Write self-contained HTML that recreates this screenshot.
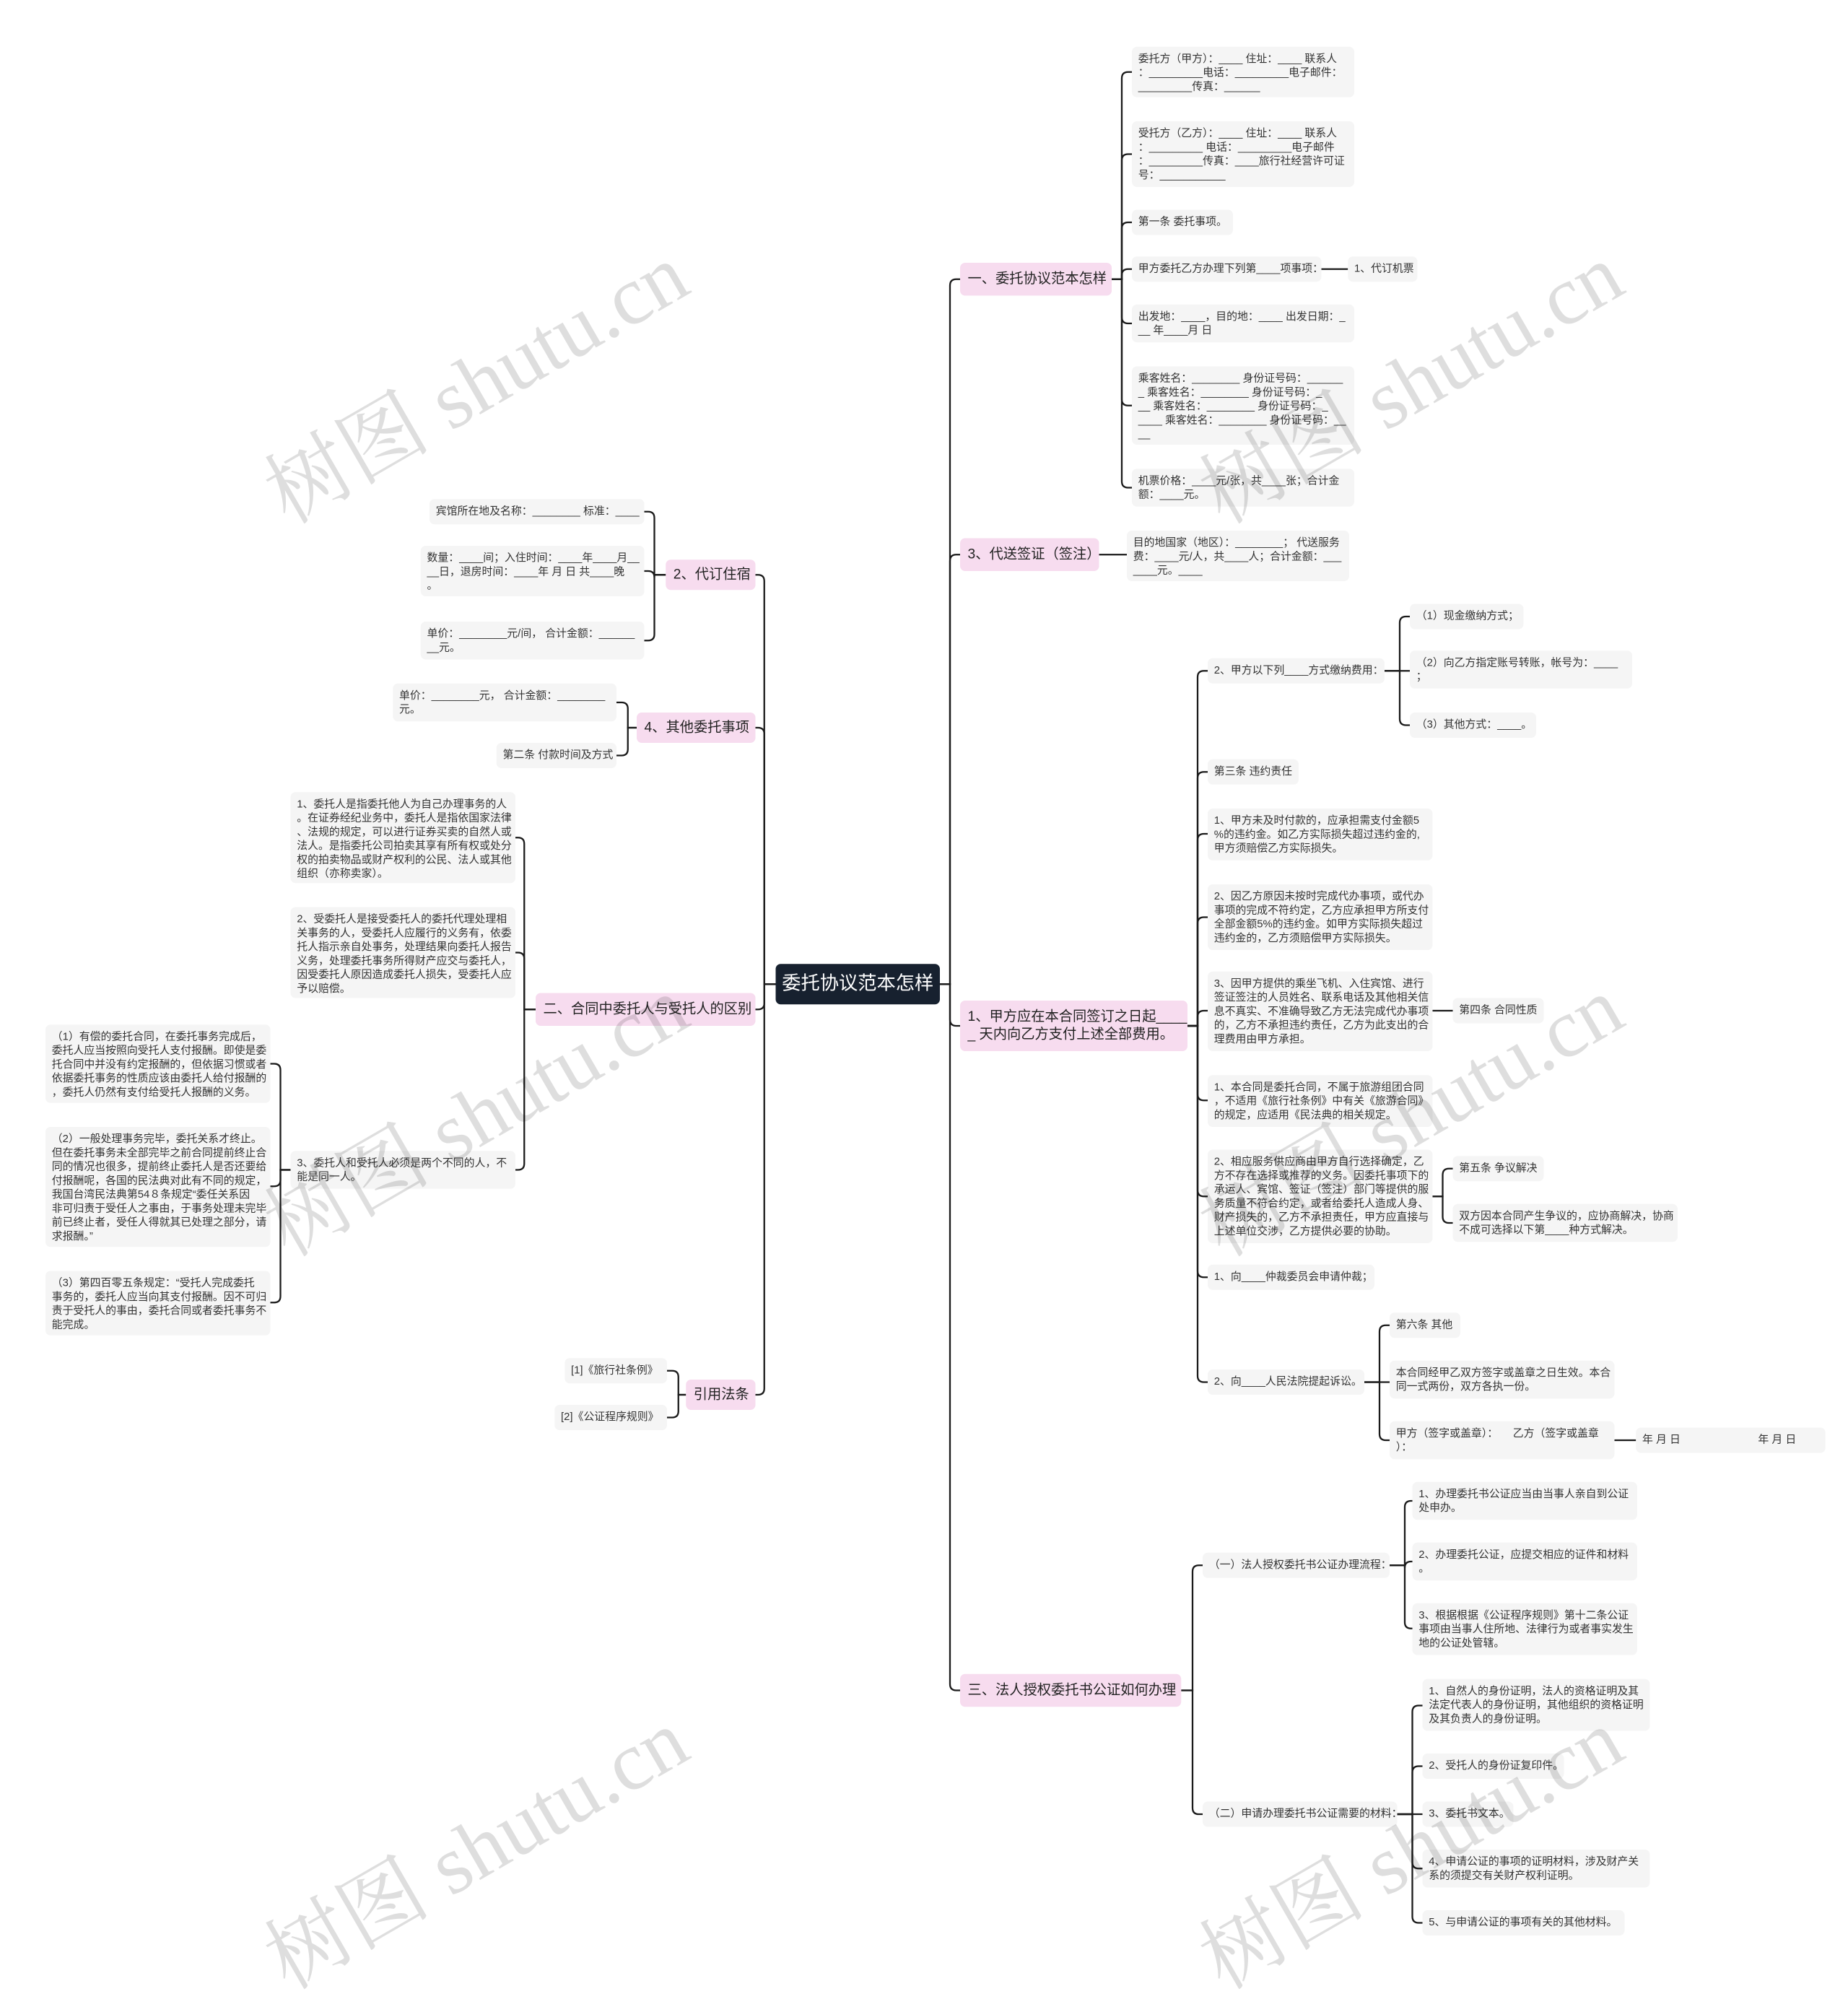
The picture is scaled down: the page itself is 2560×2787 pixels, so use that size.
<!DOCTYPE html>
<html><head><meta charset="utf-8">
<style>
html,body{margin:0;padding:0;background:#fff;}
body{width:2560px;height:2712px;overflow:hidden;position:relative;}
#c{position:absolute;left:0;top:0;width:1463px;height:1550px;transform:scale(1.75);transform-origin:0 0;font-family:"Liberation Sans","Noto Sans CJK SC",sans-serif;}
.l{position:absolute;background:#f5f5f5;border-radius:4px;font-size:8.5px;line-height:11px;padding:4px 5px;color:#333;white-space:nowrap;box-sizing:border-box;}
.b{position:absolute;background:#f7dcef;border-radius:4px;font-size:11px;line-height:14px;padding:6px 6px;color:#222;white-space:nowrap;box-sizing:border-box;}
.r{position:absolute;background:#17212f;border-radius:4px;font-size:15px;color:#fff;white-space:nowrap;box-sizing:border-box;text-align:center;}
.w{position:absolute;font-family:"Liberation Serif","Noto Serif CJK SC",serif;font-size:66px;color:rgba(0,0,0,0.13);transform:rotate(-30deg);transform-origin:0 0;white-space:nowrap;}
svg{position:absolute;left:0;top:0;}
</style></head><body><div id="c">
<svg id="s" width="1463" height="1550"></svg>

<div class="r" style="left:614px;top:763px;width:130px;height:32px;line-height:32px;">委托协议范本怎样</div>

<div class="b" style="left:760px;top:208px;width:120px;height:26px;">一、委托协议范本怎样</div>
<div class="b" style="left:760px;top:426px;width:110px;height:26px;">3、代送签证（签注）</div>
<div class="b" style="left:760px;top:792px;width:180px;height:40px;">1、甲方应在本合同签订之日起____<br>_ 天内向乙方支付上述全部费用。</div>
<div class="b" style="left:760px;top:1325px;width:175px;height:26px;">三、法人授权委托书公证如何办理</div>

<div class="l" style="left:896px;top:37px;width:176px;height:40px;">委托方（甲方）：____ 住址：____ 联系人<br>：_________电话：_________电子邮件：<br>_________传真：______</div>
<div class="l" style="left:896px;top:96px;width:176px;height:52px;">受托方（乙方）：____ 住址：____ 联系人<br>：_________ 电话：_________电子邮件<br>：_________传真：____旅行社经营许可证<br>号：___________</div>
<div class="l" style="left:896px;top:166px;width:80px;height:20px;">第一条 委托事项。</div>
<div class="l" style="left:896px;top:203px;width:150px;height:20px;">甲方委托乙方办理下列第____项事项：</div>
<div class="l" style="left:1067px;top:203px;width:55px;height:20px;">1、代订机票</div>
<div class="l" style="left:896px;top:241px;width:176px;height:30px;">出发地：____，目的地：____ 出发日期：_<br>__ 年____月 日</div>
<div class="l" style="left:896px;top:290px;width:176px;height:62px;">乘客姓名：________ 身份证号码：______<br>_ 乘客姓名：________ 身份证号码：_<br>__ 乘客姓名：________ 身份证号码：_<br>____ 乘客姓名：________ 身份证号码：__<br>__</div>
<div class="l" style="left:896px;top:371px;width:176px;height:30px;">机票价格：____元/张，共____张；合计金<br>额：____元。</div>

<div class="l" style="left:892px;top:420px;width:176px;height:40px;">目的地国家（地区）：________； 代送服务<br>费：____元/人，共____人；合计金额：___<br>____元。____</div>

<div class="l" style="left:956px;top:521px;width:140px;height:20px;">2、甲方以下列____方式缴纳费用：</div>
<div class="l" style="left:1116px;top:478px;width:90px;height:20px;">（1）现金缴纳方式；</div>
<div class="l" style="left:1116px;top:515px;width:176px;height:30px;">（2）向乙方指定账号转账，帐号为：____<br>；</div>
<div class="l" style="left:1116px;top:564px;width:100px;height:20px;">（3）其他方式：____。</div>
<div class="l" style="left:956px;top:601px;width:72px;height:20px;">第三条 违约责任</div>
<div class="l" style="left:956px;top:640px;width:178px;height:41px;">1、甲方未及时付款的，应承担需支付金额5<br>%的违约金。如乙方实际损失超过违约金的,<br>甲方须赔偿乙方实际损失。</div>
<div class="l" style="left:956px;top:700px;width:178px;height:52px;">2、因乙方原因未按时完成代办事项，或代办<br>事项的完成不符约定，乙方应承担甲方所支付<br>全部金额5%的违约金。如甲方实际损失超过<br>违约金的，乙方须赔偿甲方实际损失。</div>
<div class="l" style="left:956px;top:769px;width:178px;height:63px;">3、因甲方提供的乘坐飞机、入住宾馆、进行<br>签证签注的人员姓名、联系电话及其他相关信<br>息不真实、不准确导致乙方无法完成代办事项<br>的，乙方不承担违约责任，乙方为此支出的合<br>理费用由甲方承担。</div>
<div class="l" style="left:1150px;top:790px;width:72px;height:20px;">第四条 合同性质</div>
<div class="l" style="left:956px;top:851px;width:178px;height:41px;">1、本合同是委托合同，不属于旅游组团合同<br>，不适用《旅行社条例》中有关《旅游合同》<br>的规定，应适用《民法典的相关规定。</div>
<div class="l" style="left:956px;top:910px;width:178px;height:74px;">2、相应服务供应商由甲方自行选择确定，乙<br>方不存在选择或推荐的义务。因委托事项下的<br>承运人、宾馆、签证（签注）部门等提供的服<br>务质量不符合约定，或者给委托人造成人身、<br>财产损失的，乙方不承担责任，甲方应直接与<br>上述单位交涉，乙方提供必要的协助。</div>
<div class="l" style="left:1150px;top:915px;width:72px;height:20px;">第五条 争议解决</div>
<div class="l" style="left:1150px;top:953px;width:178px;height:30px;">双方因本合同产生争议的，应协商解决，协商<br>不成可选择以下第____种方式解决。</div>
<div class="l" style="left:956px;top:1001px;width:132px;height:20px;">1、向____仲裁委员会申请仲裁；</div>
<div class="l" style="left:956px;top:1084px;width:124px;height:20px;">2、向____人民法院提起诉讼。</div>
<div class="l" style="left:1100px;top:1039px;width:56px;height:20px;">第六条 其他</div>
<div class="l" style="left:1100px;top:1077px;width:178px;height:30px;">本合同经甲乙双方签字或盖章之日生效。本合<br>同一式两份，双方各执一份。</div>
<div class="l" style="left:1100px;top:1125px;width:178px;height:30px;">甲方（签字或盖章）：&nbsp;&nbsp;&nbsp;&nbsp;&nbsp;乙方（签字或盖章<br>）：</div>
<div class="l" style="left:1295px;top:1130px;width:150px;height:20px;">年 月 日&nbsp;&nbsp;&nbsp;&nbsp;&nbsp;&nbsp;&nbsp;&nbsp;&nbsp;&nbsp;&nbsp;&nbsp;&nbsp;&nbsp;&nbsp;&nbsp;&nbsp;&nbsp;&nbsp;&nbsp;&nbsp;&nbsp;&nbsp;&nbsp;&nbsp;&nbsp;年 月 日</div>

<div class="l" style="left:952px;top:1229px;width:148px;height:20px;">（一）法人授权委托书公证办理流程：</div>
<div class="l" style="left:1118px;top:1173px;width:178px;height:30px;">1、办理委托书公证应当由当事人亲自到公证<br>处申办。</div>
<div class="l" style="left:1118px;top:1221px;width:178px;height:30px;">2、办理委托公证，应提交相应的证件和材料<br>。</div>
<div class="l" style="left:1118px;top:1269px;width:178px;height:41px;">3、根据根据《公证程序规则》第十二条公证<br>事项由当事人住所地、法律行为或者事实发生<br>地的公证处管辖。</div>
<div class="l" style="left:952px;top:1426px;width:154px;height:20px;">（二）申请办理委托书公证需要的材料：</div>
<div class="l" style="left:1126px;top:1329px;width:180px;height:41px;">1、自然人的身份证明，法人的资格证明及其<br>法定代表人的身份证明，其他组织的资格证明<br>及其负责人的身份证明。</div>
<div class="l" style="left:1126px;top:1388px;width:112px;height:20px;">2、受托人的身份证复印件。</div>
<div class="l" style="left:1126px;top:1426px;width:72px;height:20px;">3、委托书文本。</div>
<div class="l" style="left:1126px;top:1464px;width:180px;height:30px;">4、申请公证的事项的证明材料，涉及财产关<br>系的须提交有关财产权利证明。</div>
<div class="l" style="left:1126px;top:1512px;width:160px;height:20px;">5、与申请公证的事项有关的其他材料。</div>

<div class="b" style="left:527px;top:443px;width:71px;height:24px;padding-top:5px;">2、代订住宿</div>
<div class="b" style="left:504px;top:564px;width:94px;height:24px;padding-top:5px;">4、其他委托事项</div>
<div class="b" style="left:424px;top:786px;width:174px;height:26px;">二、合同中委托人与受托人的区别</div>
<div class="b" style="left:543px;top:1092px;width:55px;height:24px;padding-top:5px;">引用法条</div>

<div class="l" style="left:340px;top:395px;width:170px;height:20px;">宾馆所在地及名称：________ 标准：____</div>
<div class="l" style="left:333px;top:432px;width:177px;height:40px;">数量：____间；入住时间：____年____月__<br>__日，退房时间：____年 月 日 共____晚<br>。</div>
<div class="l" style="left:333px;top:492px;width:177px;height:30px;">单价：________元/间， 合计金额：______<br>__元。</div>
<div class="l" style="left:311px;top:541px;width:177px;height:30px;">单价：________元， 合计金额：________<br>元。</div>
<div class="l" style="left:393px;top:588px;width:95px;height:20px;">第二条 付款时间及方式</div>
<div class="l" style="left:230px;top:627px;width:178px;height:72px;">1、委托人是指委托他人为自己办理事务的人<br>。在证券经纪业务中，委托人是指依国家法律<br>、法规的规定，可以进行证券买卖的自然人或<br>法人。是指委托公司拍卖其享有所有权或处分<br>权的拍卖物品或财产权利的公民、法人或其他<br>组织（亦称卖家）。</div>
<div class="l" style="left:230px;top:718px;width:178px;height:72px;">2、受委托人是接受委托人的委托代理处理相<br>关事务的人，受委托人应履行的义务有，依委<br>托人指示亲自处事务，处理结果向委托人报告<br>义务，处理委托事务所得财产应交与委托人，<br>因受委托人原因造成委托人损失，受委托人应<br>予以赔偿。</div>
<div class="l" style="left:230px;top:911px;width:178px;height:30px;">3、委托人和受托人必须是两个不同的人，不<br>能是同一人。</div>
<div class="l" style="left:36px;top:811px;width:178px;height:62px;">（1）有偿的委托合同，在委托事务完成后，<br>委托人应当按照向受托人支付报酬。即使是委<br>托合同中并没有约定报酬的，但依据习惯或者<br>依据委托事务的性质应该由委托人给付报酬的<br>，委托人仍然有支付给受托人报酬的义务。</div>
<div class="l" style="left:36px;top:892px;width:178px;height:95px;">（2）一般处理事务完毕，委托关系才终止。<br>但在委托事务未全部完毕之前合同提前终止合<br>同的情况也很多，提前终止委托人是否还要给<br>付报酬呢，各国的民法典对此有不同的规定，<br>我国台湾民法典第54８条规定“委任关系因<br>非可归责于受任人之事由，于事务处理未完毕<br>前已终止者，受任人得就其已处理之部分，请<br>求报酬。”</div>
<div class="l" style="left:36px;top:1006px;width:178px;height:51px;">（3）第四百零五条规定：“受托人完成委托<br>事务的，委托人应当向其支付报酬。因不可归<br>责于受托人的事由，委托合同或者委托事务不<br>能完成。</div>
<div class="l" style="left:447px;top:1075px;width:81px;height:20px;">[1]《旅行社条例》</div>
<div class="l" style="left:439px;top:1112px;width:89px;height:20px;">[2]《公证程序规则》</div>

<div class="w" style="left:190px;top:350px;">树图 shutu.cn</div>
<div class="w" style="left:930px;top:350px;">树图 shutu.cn</div>
<div class="w" style="left:190px;top:930px;">树图 shutu.cn</div>
<div class="w" style="left:930px;top:930px;">树图 shutu.cn</div>
<div class="w" style="left:190px;top:1510px;">树图 shutu.cn</div>
<div class="w" style="left:930px;top:1510px;">树图 shutu.cn</div>
</div>
<script>
var G=[
[744,779,752,[[760,221],[760,439],[760,812],[760,1338]]],
[880,221,888,[[896,57],[896,122],[896,176],[896,213],[896,256],[896,321],[896,386]]],
[1046,213,1056,[[1067,213]]],
[870,439,881,[[892,440]]],
[940,812,948,[[956,531],[956,611],[956,660],[956,726],[956,800],[956,871],[956,947],[956,1011],[956,1094]]],
[1096,531,1108,[[1116,488],[1116,530],[1116,574]]],
[1134,800,1142,[[1150,800]]],
[1134,947,1142,[[1150,925],[1150,968]]],
[1080,1094,1092,[[1100,1049],[1100,1092],[1100,1140]]],
[1278,1140,1286,[[1295,1140]]],
[935,1338,944,[[952,1239],[952,1436]]],
[1100,1239,1112,[[1118,1188],[1118,1236],[1118,1289]]],
[1106,1436,1118,[[1126,1350],[1126,1398],[1126,1436],[1126,1479],[1126,1522]]],
[614,779,605,[[598,455],[598,576],[598,799],[598,1104]]],
[527,455,518,[[510,405],[510,452],[510,507]]],
[504,576,497,[[488,556],[488,598]]],
[424,799,415,[[408,663],[408,754],[408,926]]],
[230,926,222,[[214,842],[214,939],[214,1031]]],
[543,1104,537,[[528,1085],[528,1122]]]
];
var s='',r=5;
G.forEach(function(g){var px=g[0],py=g[1],tx=g[2],d=tx>px?1:-1;
g[3].forEach(function(c){var cx=c[0],cy=c[1];
if(Math.abs(cy-py)<3){s+='<path d="M'+px+' '+py+'H'+cx+'"/>';return;}
var v=cy>py?1:-1;
s+='<path d="M'+px+' '+py+'H'+tx+'V'+(cy-v*r)+'Q'+tx+' '+cy+' '+(tx+d*r)+' '+cy+'H'+cx+'"/>';});});
document.getElementById('s').innerHTML='<g fill="none" stroke="#1a1a1a" stroke-width="1.3">'+s+'</g>';
</script>
</body></html>
